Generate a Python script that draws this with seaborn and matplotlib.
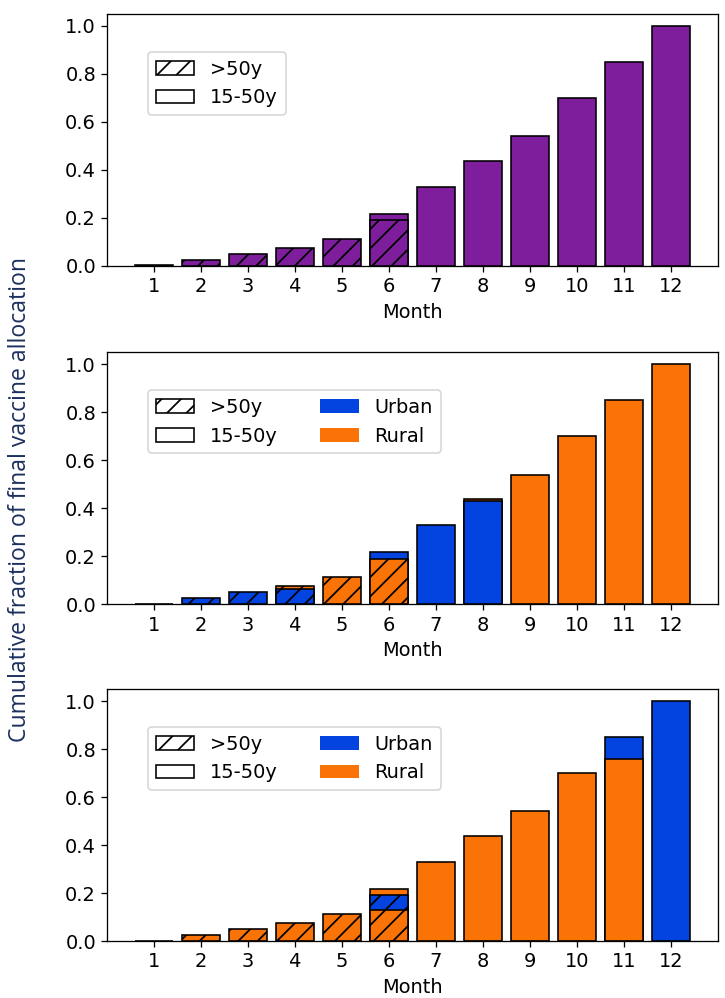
import numpy as np
import pandas as pd
import matplotlib
matplotlib.use("Agg")
import matplotlib.pyplot as plt
from matplotlib.patches import Patch
import seaborn as sns

months = list(range(1, 13))
month_labels = [str(m) for m in months]

# cumulative fraction reached at each month (top of each bar)
total = [0.002, 0.025, 0.05, 0.075, 0.113, 0.217, 0.33, 0.438, 0.54, 0.70, 0.85, 1.0]

# colour codes: P purple, U urban, R rural ; hatch 1 = >50y
# Panel 1 layers (drawn tallest first, overlaid)
p1_l0_color = ["P"] * 12
p1_l0_hatch = [1, 1, 1, 1, 1, 0, 0, 0, 0, 0, 0, 0]
p1_l1_height = [0, 0, 0, 0, 0, 0.19, 0, 0, 0, 0, 0, 0]
p1_l1_color = ["P"] * 12
p1_l1_hatch = [1] * 12

# Panel 2
p2_l0_color = ["U", "U", "U", "R", "R", "U", "U", "R", "R", "R", "R", "R"]
p2_l0_hatch = [1, 1, 1, 1, 1, 0, 0, 0, 0, 0, 0, 0]
p2_l1_height = [0, 0, 0, 0.063, 0, 0.19, 0, 0.432, 0, 0, 0, 0]
p2_l1_color = ["U", "U", "U", "U", "R", "R", "U", "U", "R", "R", "R", "R"]
p2_l1_hatch = [1, 1, 1, 1, 1, 1, 0, 0, 0, 0, 0, 0]

# Panel 3
p3_l0_color = ["R"] * 10 + ["U", "U"]
p3_l0_hatch = [1, 1, 1, 1, 1, 0, 0, 0, 0, 0, 0, 0]
p3_l1_height = [0, 0, 0, 0, 0, 0.19, 0, 0, 0, 0, 0.76, 0]
p3_l1_color = ["R"] * 5 + ["U"] + ["R"] * 6
p3_l1_hatch = [1, 1, 1, 1, 1, 1, 0, 0, 0, 0, 0, 0]
p3_l2_height = [0, 0, 0, 0, 0, 0.13, 0, 0, 0, 0, 0, 0]
p3_l2_color = ["R"] * 12
p3_l2_hatch = [1] * 12

palette = {"P": "#7e1e9c", "U": "#0343df", "R": "#f97306"}

panels = [
    [(total, p1_l0_color, p1_l0_hatch), (p1_l1_height, p1_l1_color, p1_l1_hatch)],
    [(total, p2_l0_color, p2_l0_hatch), (p2_l1_height, p2_l1_color, p2_l1_hatch)],
    [(total, p3_l0_color, p3_l0_hatch), (p3_l1_height, p3_l1_color, p3_l1_hatch),
     (p3_l2_height, p3_l2_color, p3_l2_hatch)],
]

HATCH = "//"
plt.rcParams["hatch.linewidth"] = 1.1

DPI = 116
fig = plt.figure(figsize=(725 / DPI, 998 / DPI), dpi=DPI)
tops = [0.986, 0.647, 0.3096]
h = 0.2525
axes = [fig.add_axes([0.148, t - h, 0.842, h]) for t in tops]

for pi, (ax, layers) in enumerate(zip(axes, panels)):
    for heights, colors, hatches in layers:
        for code in ["P", "U", "R"]:
            for hflag in [1, 0]:
                vals = [hv if (c == code and hh == hflag) else 0.0
                        for hv, c, hh in zip(heights, colors, hatches)]
                if not any(v > 0 for v in vals):
                    continue
                df = pd.DataFrame({"month": months, "frac": vals})
                n_before = len(ax.patches)
                sns.barplot(data=df, x="month", y="frac", native_scale=True,
                            color=palette[code], saturation=1, errorbar=None,
                            width=0.8, edgecolor="black", linewidth=1.0,
                            hatch=HATCH if hflag else "", ax=ax)
                for p in ax.patches[n_before:]:
                    if p.get_height() <= 0:
                        p.set_visible(False)
    ax.set_xlim(0.01, 12.99)
    ax.set_ylim(0, 1.05)
    ax.set_xticks(months)
    ax.set_xticklabels(month_labels)
    ax.set_yticks([0, 0.2, 0.4, 0.6, 0.8, 1.0])
    ax.set_yticklabels(["0.0", "0.2", "0.4", "0.6", "0.8", "1.0"])
    ax.set_xlabel("Month", fontsize=12)
    ax.set_ylabel("")
    ax.tick_params(labelsize=12)
    for s in ax.spines.values():
        s.set_visible(True)
        s.set_linewidth(0.8)

    handles = [Patch(facecolor="white", edgecolor="black", hatch=HATCH, label=">50y"),
               Patch(facecolor="white", edgecolor="black", label="15-50y")]
    ncol = 1
    if pi > 0:
        handles += [Patch(facecolor=palette["U"], label="Urban"),
                    Patch(facecolor=palette["R"], label="Rural")]
        ncol = 2
    ax.legend(handles=handles, ncol=ncol, loc="upper left",
              bbox_to_anchor=(0.051, 0.888), fontsize=12, columnspacing=2.2,
              handlelength=2.0)

fig.text(0.027, 0.5, "Cumulative fraction of final vaccine allocation",
         rotation=90, va="center", ha="center", fontsize=14.3,
         family=["Open Sans", "DejaVu Sans"], color="#1c2f5e")

fig.savefig("out.png", dpi=DPI)
